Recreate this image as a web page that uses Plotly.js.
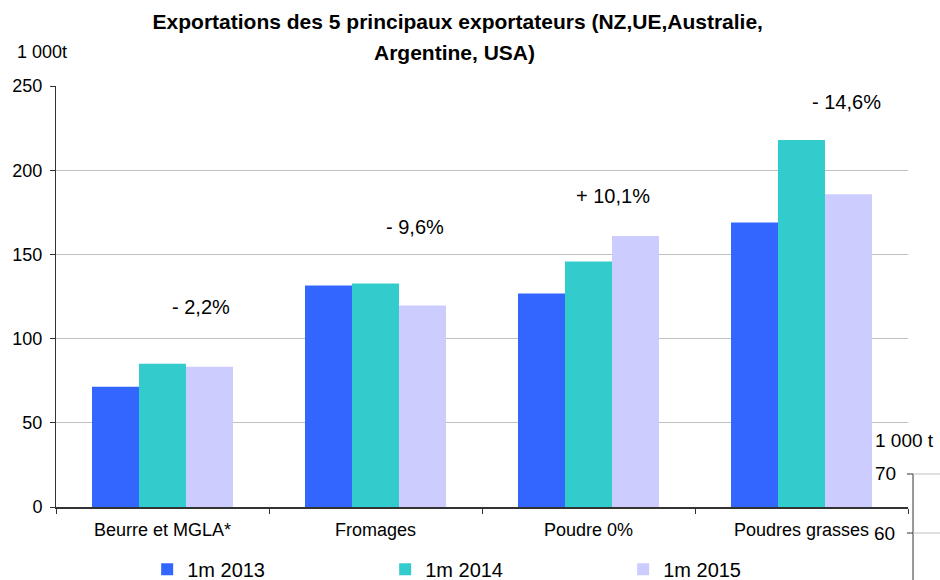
<!DOCTYPE html>
<html>
<head>
<meta charset="utf-8">
<script src="https://cdn.plot.ly/plotly-3.0.1.min.js"></script>
<style>html,body{margin:0;padding:0;background:#fff;}#chart{width:940px;height:580px;}</style>
</head>
<body>
<div id="chart"></div>
<script>
const categories = ["Beurre et MGLA*", "Fromages", "Poudre 0%", "Poudres grasses"];
const seriesNames = ["1m 2013", "1m 2014", "1m 2015"];
const v2013 = [71.4, 131.5, 126.8, 169.0];
const v2014 = [85.1, 132.7, 145.8, 217.9];
const v2015 = [83.3, 119.6, 161.0, 185.7];
const changeLabels = ["- 2,2%", "- 9,6%", "+ 10,1%", "- 14,6%"];
const changeY = [119, 166, 184.5, 240.5];
const changeOffset = [0.18, 0.185, 0.115, 0.21];
const yTicks = [0, 50, 100, 150, 200, 250];

const colors = ["#3366FF", "#33CCCC", "#CCCCFF"];
const FONT = "Liberation Sans, Arial, sans-serif";

const traces = [v2013, v2014, v2015].map((vals, i) => ({
  type: "bar",
  name: seriesNames[i],
  x: categories,
  y: vals,
  marker: {color: colors[i], line: {width: 0}},
  hoverinfo: "skip"
}));

const annotations = changeLabels.map((t, i) => ({
  x: i + changeOffset[i], y: changeY[i], xref: "x", yref: "y",
  text: t, showarrow: false, font: {family: FONT, size: 20, color: "#000"}
}));

annotations.push({
  x: 0.468, y: 1.0, xref: "paper", yref: "paper", yanchor: "middle",
  yshift: 34, text: "<b>Argentine, USA)</b>", showarrow: false,
  font: {family: FONT, size: 21, color: "#000"}
});
annotations.push({
  x: -0.048, y: 1.0, xref: "paper", yref: "paper", xanchor: "left", yanchor: "middle",
  yshift: 34, text: "1 000t", showarrow: false,
  font: {family: FONT, size: 18, color: "#000"}
});
// fragment of a neighbouring chart at bottom right
annotations.push({x: 0.9624, y: 0.1568, xref: "paper", yref: "paper", xanchor: "left", yanchor: "middle",
  text: "1 000 t", showarrow: false, font: {family: FONT, size: 19, color: "#000"}, xshift: -3});
annotations.push({x: 0.9624, y: 0.0784, xref: "paper", yref: "paper", xanchor: "left", yanchor: "middle",
  text: "70", showarrow: false, font: {family: FONT, size: 19, color: "#000"}, xshift: -3});
annotations.push({x: 0.9624, y: -0.0618, xref: "paper", yref: "paper", xanchor: "left", yanchor: "middle",
  text: "60", showarrow: false, font: {family: FONT, size: 19, color: "#000"}, xshift: -4});

const shapes = [
  {type: "line", xref: "paper", yref: "paper", x0: 1.0059, x1: 1.0059, y0: 0.0784, y1: -0.2, line: {color: "#333", width: 1}},
  {type: "line", xref: "paper", yref: "paper", x0: 0.9988, x1: 1.0059, y0: 0.0784, y1: 0.0784, line: {color: "#333", width: 1}},
  {type: "line", xref: "paper", yref: "paper", x0: 0.9988, x1: 1.0059, y0: -0.0618, y1: -0.0618, line: {color: "#333", width: 1}},
  {type: "line", xref: "paper", yref: "paper", x0: 1.0059, x1: 1.04, y0: 0.0784, y1: 0.0784, line: {color: "#c0c0c0", width: 1}},
  {type: "line", xref: "paper", yref: "paper", x0: 1.0059, x1: 1.04, y0: -0.0618, y1: -0.0618, line: {color: "#c0c0c0", width: 1}}
];

const layout = {
  width: 940, height: 580,
  margin: {l: 56, r: 32, t: 86, b: 73, autoexpand: false},
  paper_bgcolor: "#fff", plot_bgcolor: "#fff",
  font: {family: FONT, size: 18, color: "#000"},
  title: {text: "<b>Exportations des 5 principaux exportateurs (NZ,UE,Australie,</b>",
    x: 0.487, xanchor: "center", y: 0.962, yanchor: "middle",
    font: {family: FONT, size: 21, color: "#000"}},
  barmode: "group", bargap: 0.338, bargroupgap: 0,
  showlegend: true,
  legend: {orientation: "h", x: 0.107, xanchor: "left", y: -0.148, yanchor: "middle",
    entrywidth: 193, entrywidthmode: "pixels", itemwidth: 30,
    font: {family: FONT, size: 20, color: "#000"}, traceorder: "normal", bgcolor: "rgba(0,0,0,0)"},
  xaxis: {type: "category", tickson: "boundaries", ticks: "outside", ticklen: 5, tickcolor: "#333",
    ticklabelstandoff: 6,
    showline: true, linecolor: "#333", linewidth: 1.5, showgrid: false, zeroline: false,
    tickfont: {family: FONT, size: 18, color: "#000"}, fixedrange: true},
  yaxis: {range: [0, 250], tickvals: yTicks, ticks: "outside", ticklen: 5, tickcolor: "#333",
    ticklabelstandoff: 4,
    showline: true, linecolor: "#333", linewidth: 1, showgrid: true, gridcolor: "#c0c0c0",
    zeroline: false, tickfont: {family: FONT, size: 18, color: "#000"}, fixedrange: true},
  annotations: annotations,
  shapes: shapes
};

Plotly.newPlot("chart", traces, layout, {displayModeBar: false, staticPlot: true});
</script>
</body>
</html>
